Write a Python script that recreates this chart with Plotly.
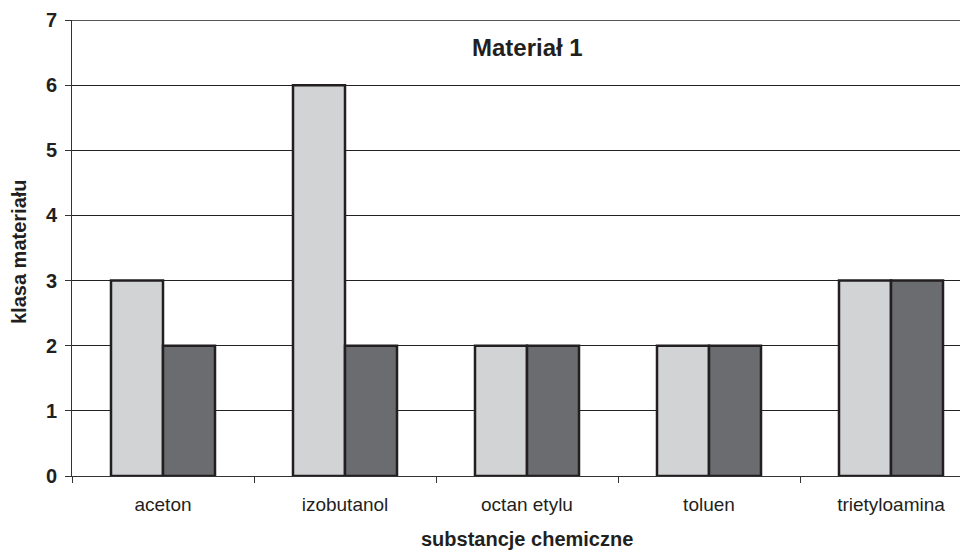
import plotly.graph_objects as go

categories = ["aceton", "izobutanol", "octan etylu", "toluen", "trietyloamina"]
series_a = [3, 6, 2, 2, 3]
series_b = [2, 2, 2, 2, 3]
y_ticks = [0, 1, 2, 3, 4, 5, 6, 7]

# page has an 8px body margin; figure coordinates = page coordinates - 8
OFF = 8
W, H = 968 - OFF, 552 - OFF
L, R, T, B = 72 - OFF, 0, 20 - OFF, 552 - 476
pw = W - L - R
ph = H - T - B
cat_px = 182.0
span = pw / cat_px

fig = go.Figure()
fig.add_trace(go.Bar(x=categories, y=series_a, marker=dict(color="#d2d3d5", line=dict(color="#231f20", width=2.5))))
fig.add_trace(go.Bar(x=categories, y=series_b, marker=dict(color="#6b6c70", line=dict(color="#231f20", width=2.5))))

def px_x(p):
    return (p - OFF - L) / pw

def px_y(p):
    return (H - B - (p - OFF)) / ph

fig.update_layout(
    width=W, height=H,
    margin=dict(l=L, r=R, t=T, b=B),
    paper_bgcolor="white", plot_bgcolor="white",
    barmode="group", bargap=1 - 104 / 182, bargroupgap=0,
    showlegend=False,
    font=dict(family="Liberation Sans, Arial, sans-serif", color="#231f20"),
    xaxis=dict(
        range=[-0.5, -0.5 + span],
        showline=True, linecolor="#333333", linewidth=1,
        ticks="outside", ticklen=6, tickcolor="#333333", tickson="boundaries",
        tickfont=dict(size=19, color="#231f20"),
        ticklabelstandoff=11,
        showgrid=False,
    ),
    yaxis=dict(
        range=[0, 7], tickvals=y_ticks,
        showline=True, linecolor="#333333", linewidth=1,
        ticks="outside", ticklen=6, tickcolor="#333333",
        tickfont=dict(size=20, color="#231f20", family="Liberation Sans, Arial, sans-serif", weight="bold"),
        ticklabelstandoff=4,
        showgrid=True, gridcolor="#222222", gridwidth=1,
        zeroline=False,
    ),
    annotations=[
        dict(text="<b>Materiał 1</b>", xref="paper", yref="paper", x=px_x(527), y=px_y(48),
             showarrow=False, font=dict(size=24, color="#231f20"), xanchor="center", yanchor="middle"),
        dict(text="<b>klasa materiału</b>", xref="paper", yref="paper", x=px_x(19), y=px_y(252),
             showarrow=False, textangle=-90, font=dict(size=20, color="#231f20"), xanchor="center", yanchor="middle"),
        dict(text="<b>substancje chemiczne</b>", xref="paper", yref="paper", x=px_x(527), y=px_y(539),
             showarrow=False, font=dict(size=20, color="#231f20"), xanchor="center", yanchor="middle"),
    ],
)
fig.add_shape(type="line", xref="paper", yref="y", x0=0, x1=1, y0=7, y1=7, line=dict(color="#555555", width=2))

fig.write_html("out.html")
